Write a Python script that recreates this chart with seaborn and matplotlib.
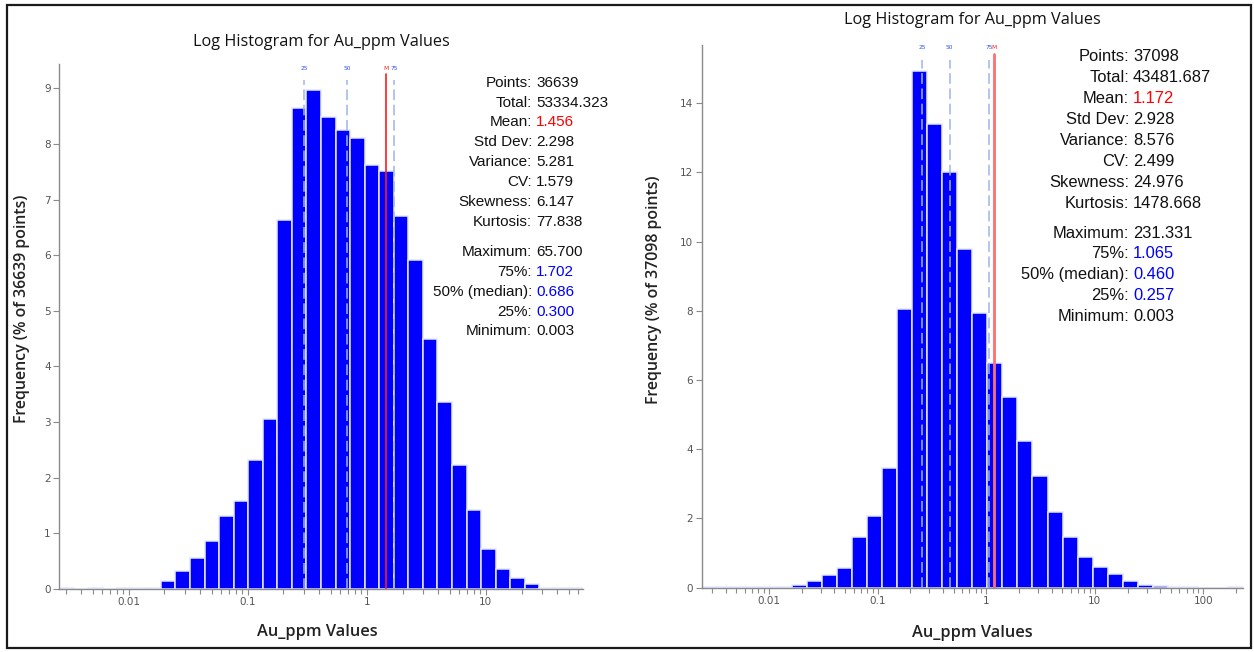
import numpy as np
import matplotlib
matplotlib.use("Agg")
import matplotlib.pyplot as plt
import matplotlib.ticker as mticker
import matplotlib.transforms as mtransforms
from matplotlib.patches import Rectangle
import seaborn as sns

# ---- data -------------------------------------------------------------
title_text = "Log Histogram for Au_ppm Values"
xlabel_text = "Au_ppm Values"

# percentage of samples in each of 36 log-spaced classes
left_freq = [0.02, 0.0, 0.02, 0.0, 0.02, 0.02, 0.02, 0.13, 0.32, 0.55, 0.85, 1.30,
             1.57, 2.31, 3.06, 6.63, 8.64, 8.98, 8.49, 8.26, 8.10, 7.62, 7.52, 6.70,
             5.91, 4.50, 3.36, 2.23, 1.42, 0.71, 0.36, 0.20, 0.085, 0.02, 0.02, 0.02]
right_freq = [0.03, 0.01, 0.03, 0.03, 0.02, 0.03, 0.08, 0.20, 0.37, 0.57, 1.47, 2.08,
              3.46, 8.05, 14.93, 13.39, 12.00, 9.79, 7.93, 6.48, 5.52, 4.25, 3.23, 2.20,
              1.47, 0.88, 0.59, 0.40, 0.20, 0.08, 0.05, 0.03, 0.03, 0.0, 0.0, 0.03]

left_range = (0.0026, 65.7)
right_range = (0.0024, 231.331)

left_points = 36639
right_points = 37098

stat_names = ["Points:", "Total:", "Mean:", "Std Dev:", "Variance:", "CV:", "Skewness:",
              "Kurtosis:", "Maximum:", "75%:", "50% (median):", "25%:", "Minimum:"]
left_stats = ["36639", "53334.323", "1.456", "2.298", "5.281", "1.579", "6.147",
              "77.838", "65.700", "1.702", "0.686", "0.300", "0.003"]
right_stats = ["37098", "43481.687", "1.172", "2.928", "8.576", "2.499", "24.976",
               "1478.668", "231.331", "1.065", "0.460", "0.257", "0.003"]

left_quart = [0.300, 0.686, 1.702]
right_quart = [0.257, 0.460, 1.065]
left_mean = 1.456
right_mean = 1.172
quart_tags = ["25", "50", "75"]

left_yticks = list(range(0, 10))
right_yticks = list(range(0, 16, 2))

# ---- style ------------------------------------------------------------
sns.set_theme(style="white")
plt.rcParams["font.family"] = ["DejaVu Sans"]

BAR_BLUE = "#0000ff"
QUART_BLUE = "#9db4ee"
TICK_GREY = "#555555"
SPINE_GREY = "#8a8a8a"

fig = plt.figure(figsize=(12.54, 6.52), dpi=100)
W, H = 1254.0, 652.0


def panel(rect_px, freq, xrange, ylim_top, yticks, npts, names, values,
          quart, mean, mean_style, stat_px, title_y, label_pos, tag_frac,
          line_frac, stat_size):
    x0, top, x1, bottom = rect_px
    ax = fig.add_axes([x0 / W, (H - bottom) / H, (x1 - x0) / W, (bottom - top) / H])
    ax.set_xscale("log")

    lo, hi = np.log10(xrange[0]), np.log10(xrange[1])
    nb = len(freq)
    edges = np.linspace(lo, hi, nb + 1)
    centers = 10 ** ((edges[:-1] + edges[1:]) / 2)
    sns.histplot(x=centers, weights=freq, bins=nb, binrange=(lo, hi),
                 stat="count", color=BAR_BLUE, alpha=1.0,
                 edgecolor="#e4e8ff", linewidth=1.1, ax=ax)

    ax.set_xlim(*xrange)
    ax.set_ylim(0, ylim_top)

    # quartile and mean markers
    trans = mtransforms.blended_transform_factory(ax.transData, ax.transAxes)
    for q, tag in zip(quart, quart_tags):
        ax.axvline(q, ymin=0, ymax=line_frac, color=QUART_BLUE, lw=1.1,
                   ls=(0, (7, 3)), zorder=3)
        ax.text(q, tag_frac, tag, transform=trans, ha="center", va="center",
                fontsize=4.2, color="#2e4cff", zorder=4)
    ax.axvline(mean, ymin=0, ymax=line_frac + 0.012, zorder=4, **mean_style)
    ax.text(mean, tag_frac, "M", transform=trans, ha="center", va="center",
            fontsize=4.2, color="#ff2020", zorder=5)

    # axes cosmetics
    for side in ("top", "right"):
        ax.spines[side].set_visible(False)
    for side in ("left", "bottom"):
        ax.spines[side].set_color(SPINE_GREY)
        ax.spines[side].set_linewidth(1.0)
        ax.spines[side].set_zorder(6)
    ax.set_yticks(yticks)
    ax.xaxis.set_major_locator(mticker.LogLocator(base=10))
    ax.xaxis.set_minor_locator(mticker.LogLocator(base=10, subs=np.arange(2, 10)))
    ax.xaxis.set_major_formatter(mticker.FuncFormatter(lambda v, p: f"{v:g}"))
    ax.xaxis.set_minor_formatter(mticker.NullFormatter())
    ax.tick_params(axis="both", which="both", direction="out", length=4, width=0.8,
                   color=SPINE_GREY, labelcolor=TICK_GREY, labelsize=7.5, pad=2,
                   bottom=True, left=True)
    ax.tick_params(axis="x", which="minor", length=3.5)
    ax.grid(False)

    # labels
    (xl_x, xl_y), (yl_x, yl_y) = label_pos
    ax.set_xlabel(xlabel_text, fontsize=11.8, fontweight="semibold",
                  family=["Open Sans", "DejaVu Sans"], color="#222222")
    ax.xaxis.set_label_coords(xl_x, xl_y)
    ax.set_ylabel(f"Frequency (% of {npts} points)", fontsize=11.4,
                  fontweight="semibold", family=["Open Sans", "DejaVu Sans"],
                  color="#222222")
    ax.yaxis.set_label_coords(yl_x, yl_y)
    ax.text(0.5, title_y, title_text, transform=ax.transAxes, ha="center",
            va="center", fontsize=11.7, family=["Open Sans", "DejaVu Sans"],
            color="#111111")

    # summary statistics block
    colon_px, first_row, step, gap = stat_px
    height_px = bottom - top
    width_px = x1 - x0
    for i, (nm, val) in enumerate(zip(names, values)):
        ypx = first_row + i * step + (gap if i >= 8 else 0)
        yf = (bottom - ypx) / height_px
        ax.text((colon_px - x0) / width_px, yf, nm, transform=ax.transAxes,
                ha="right", va="center", fontsize=stat_size,
                family=["Liberation Sans", "DejaVu Sans"], color="#111111")
        if nm == "Mean:":
            col = "#ff0000"
        elif nm in ("75%:", "50% (median):", "25%:"):
            col = "#0000ff"
        else:
            col = "#111111"
        ax.text((colon_px + 4 - x0) / width_px, yf, val, transform=ax.transAxes,
                ha="left", va="center", fontsize=stat_size,
                family=["Liberation Sans", "DejaVu Sans"], color=col)
    return ax


panel((59, 64, 583, 588.7), left_freq, left_range, 9.44, left_yticks, left_points,
      stat_names, left_stats, left_quart, left_mean,
      dict(color="#ff1a1a", lw=1.2), (532, 82.7, 19.85, 10.5),
      (588.7 - 42) / 524.7, ((0.494, -0.0673), (-0.056, 0.533)),
      0.992, 0.969, 11.0)

panel((701.7, 45, 1243, 587.7), right_freq, right_range, 15.68, right_yticks,
      right_points, stat_names, right_stats, right_quart, right_mean,
      dict(color="#ff7070", lw=2.0), (1129, 56.7, 20.9, 9.2),
      (587.7 - 20) / 542.7, ((0.4994, -0.0687), (-0.0733, 0.549)),
      0.9945, 0.972, 11.9)

# outer frame
fig.add_artist(Rectangle((7 / W, 4 / H), (1251 - 7) / W, (647 - 4) / H,
                         transform=fig.transFigure, fill=False,
                         edgecolor="#1a1a1a", linewidth=1.6))

fig.savefig("out.png", dpi=100)
